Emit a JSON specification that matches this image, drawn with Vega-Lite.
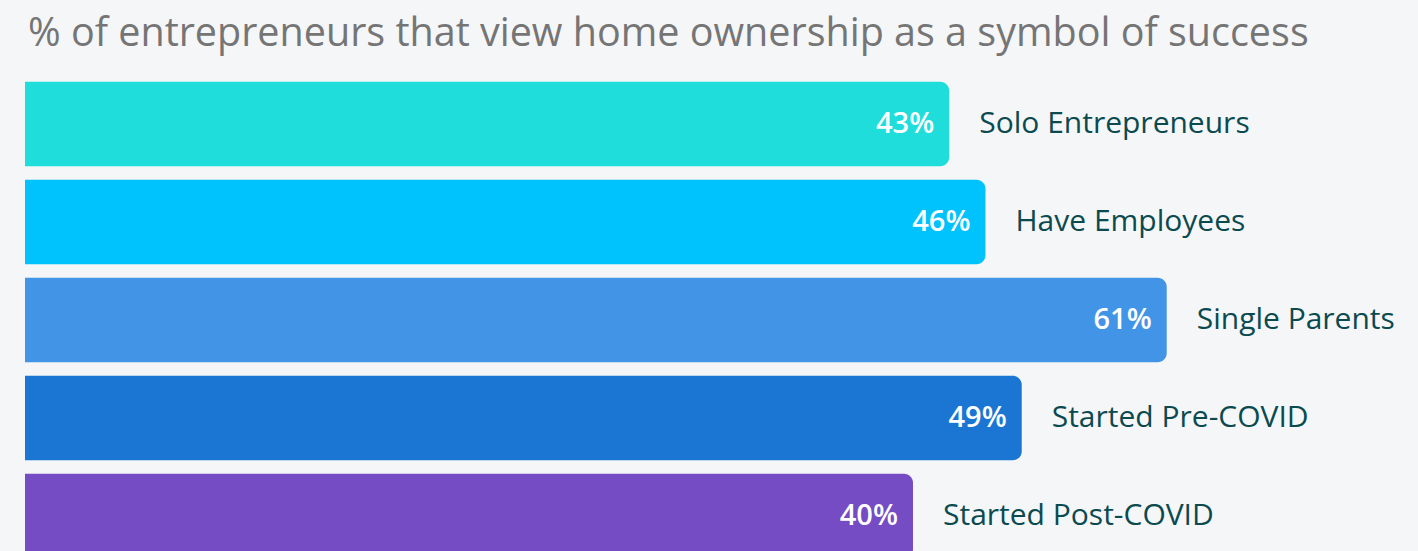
{
  "$schema": "https://vega.github.io/schema/vega-lite/v6.json",
  "width": 1393,
  "height": 476,
  "autosize": {"type": "none"},
  "padding": {"left": 25, "top": 75, "right": 0, "bottom": 0},
  "background": "#f5f6f8",
  "config": {"view": {"stroke": null}, "font": "Open Sans"},
  "title": {
    "text": "% of entrepreneurs that view home ownership as a symbol of success",
    "anchor": "start",
    "frame": "group",
    "orient": "top",
    "baseline": "alphabetic",
    "offset": 28,
    "dx": 3,
    "dy": 38,
    "fontSize": 39.5,
    "fontWeight": "normal",
    "color": "#757575",
    "font": "Open Sans"
  },
  "data": {
    "values": [
      {"group": "Solo Entrepreneurs", "value": 43, "label": "43%"},
      {"group": "Have Employees", "value": 46, "label": "46%"},
      {"group": "Single Parents", "value": 61, "label": "61%"},
      {"group": "Started Pre-COVID", "value": 49, "label": "49%"},
      {"group": "Started Post-COVID", "value": 40, "label": "40%"}
    ]
  },
  "encoding": {
    "y": {
      "field": "group",
      "type": "nominal",
      "sort": null,
      "axis": null,
      "scale": {"range": [0, 490], "paddingInner": 0.138, "paddingOuter": 0.069}
    },
    "x": {
      "field": "value",
      "type": "quantitative",
      "axis": null,
      "scale": {"domain": [-33.5, 81.8], "zero": false, "nice": false}
    }
  },
  "layer": [
    {
      "mark": {"type": "bar", "clip": true, "cornerRadiusTopRight": 9, "cornerRadiusBottomRight": 9},
      "encoding": {
        "x2": {"datum": -33.5},
        "color": {
          "field": "group",
          "type": "nominal",
          "sort": null,
          "legend": null,
          "scale": {
            "domain": ["Solo Entrepreneurs", "Have Employees", "Single Parents", "Started Pre-COVID", "Started Post-COVID"],
            "range": ["#1edddb", "#00c2fc", "#4295e6", "#1b75d3", "#754cc3"]
          }
        }
      }
    },
    {
      "mark": {"type": "text", "align": "right", "baseline": "middle", "dx": -15, "fontSize": 29, "fontWeight": 600, "color": "white"},
      "encoding": {"text": {"field": "label"}}
    },
    {
      "mark": {"type": "text", "align": "left", "baseline": "middle", "dx": 30, "fontSize": 30, "color": "#0b4a4f"},
      "encoding": {"text": {"field": "group"}}
    }
  ]
}
